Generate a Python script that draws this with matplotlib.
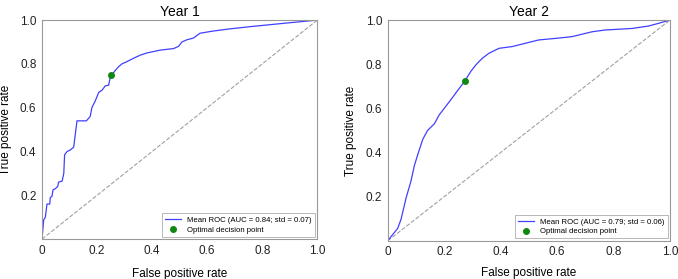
import numpy as np
import matplotlib.pyplot as plt

plt.rcParams['font.family'] = ['Liberation Sans', 'DejaVu Sans']

# Year 1 mean ROC
fpr1 = [0, 0.006, 0.012, 0.018, 0.028, 0.03, 0.036, 0.04, 0.048, 0.057, 0.06, 0.073,
        0.079, 0.082, 0.091, 0.103, 0.115, 0.121, 0.127, 0.161, 0.175, 0.181, 0.193,
        0.206, 0.218, 0.23, 0.242, 0.248, 0.254, 0.266, 0.278, 0.29, 0.308, 0.333,
        0.357, 0.381, 0.43, 0.478, 0.496, 0.508, 0.526, 0.55, 0.574, 0.622, 0.683,
        0.756, 0.876, 1.0]
tpr1 = [0, 0.088, 0.10, 0.16, 0.16, 0.19, 0.195, 0.225, 0.23, 0.24, 0.26, 0.265,
        0.30, 0.385, 0.40, 0.407, 0.42, 0.48, 0.54, 0.54, 0.56, 0.60, 0.63,
        0.67, 0.68, 0.70, 0.703, 0.74, 0.75, 0.77, 0.787, 0.80, 0.81, 0.826,
        0.84, 0.85, 0.863, 0.87, 0.88, 0.90, 0.91, 0.918, 0.94, 0.95, 0.96,
        0.97, 0.985, 1.0]
opt1 = (0.251, 0.749)
auc1, std1 = 0.84, 0.07

# Year 2 mean ROC
fpr2 = [0, 0.012, 0.035, 0.047, 0.065, 0.082, 0.094, 0.106, 0.124, 0.141, 0.165,
        0.182, 0.206, 0.224, 0.247, 0.265, 0.274, 0.294, 0.312, 0.335, 0.359, 0.394,
        0.441, 0.488, 0.535, 0.594, 0.653, 0.724, 0.77, 0.865, 0.924, 0.959, 1.0]
tpr2 = [0, 0.02, 0.056, 0.098, 0.195, 0.27, 0.34, 0.39, 0.46, 0.50, 0.53,
        0.57, 0.61, 0.64, 0.68, 0.71, 0.726, 0.767, 0.797, 0.827, 0.85, 0.872,
        0.88, 0.895, 0.91, 0.917, 0.925, 0.947, 0.955, 0.962, 0.973, 0.985, 1.0]
opt2 = (0.274, 0.722)
auc2, std2 = 0.79, 0.06

panels = [
    ("Year 1", fpr1, tpr1, opt1, auc1, std1, [0.062, 0.143, 0.406, 0.785], 8),
    ("Year 2", fpr2, tpr2, opt2, auc2, std2, [0.572, 0.137, 0.416, 0.791], 6),
]

xticks = [0, 0.2, 0.4, 0.6, 0.8, 1.0]
xticklabels = ["0", "0.2", "0.4", "0.6", "0.8", "1.0"]
yticks = [0.2, 0.4, 0.6, 0.8, 1.0]
yticklabels = ["0.2", "0.4", "0.6", "0.8", "1.0"]

fig = plt.figure(figsize=(6.78, 2.79), dpi=100)

for title, fpr, tpr, opt, auc, std, rect, xlpad in panels:
    ax = fig.add_axes(rect)
    ax.plot([0, 1], [0, 1], linestyle='--', color='#a0a0a0', linewidth=0.8)
    ax.plot(fpr, tpr, color='#4040ff', linewidth=0.9,
            label="Mean ROC (AUC = %.2f; std = %.2f)" % (auc, std))
    ax.plot([opt[0]], [opt[1]], 'o', color='#118811', markersize=4,
            linestyle='none', label="Optimal decision point")
    ax.set_xlim(0, 1)
    ax.set_ylim(0, 1)
    ax.set_xticks(xticks)
    ax.set_xticklabels(xticklabels)
    ax.set_yticks(yticks)
    ax.set_yticklabels(yticklabels)
    ax.tick_params(length=0, pad=4, labelsize=8.5, colors='#222222')
    for s in ax.spines.values():
        s.set_color('#999999')
        s.set_linewidth(0.8)
    ax.set_title(title, fontsize=10, pad=3)
    ax.set_xlabel("False positive rate", fontsize=8.5, labelpad=xlpad)
    ax.set_ylabel("True positive rate", fontsize=8.5, labelpad=6)
    leg = ax.legend(loc='lower right', fontsize=5.6, frameon=True, fancybox=False,
                    edgecolor='#999999', borderpad=0.4, handlelength=2.0,
                    labelspacing=0.3, borderaxespad=0.3)
    leg.get_frame().set_linewidth(0.6)

fig.savefig("out.png", dpi=100)
